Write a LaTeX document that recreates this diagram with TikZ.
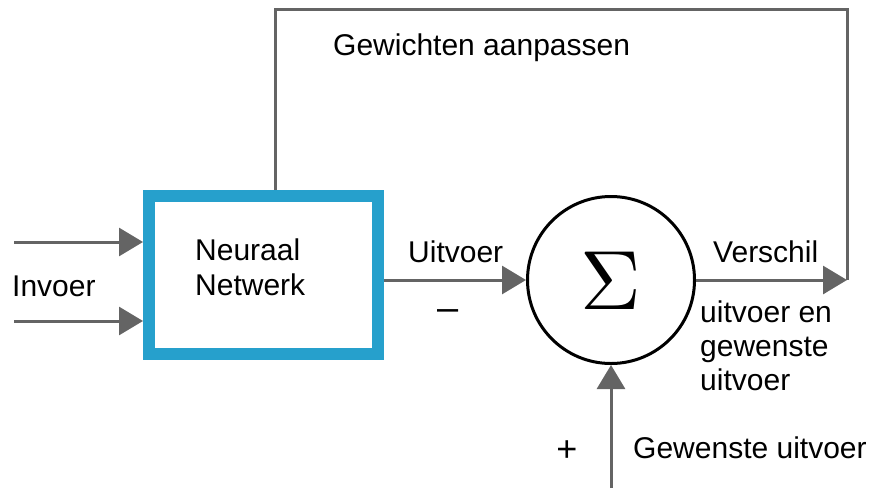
\documentclass[tikz,border=0pt]{standalone}
\usepackage{fontspec}
\setmainfont{Liberation Sans}
\usetikzlibrary{arrows.meta}
\definecolor{linegray}{RGB}{100,100,100}
\definecolor{nnblue}{RGB}{38,160,204}
\begin{document}
\begin{tikzpicture}[x=1pt,y=-1pt,
  conn/.style={draw=linegray,line width=3pt},
  arr/.style={conn,-{Triangle[length=24pt,width=28pt]}},
  lbl/.style={anchor=base west,inner sep=0pt,font=\fontsize{30}{35}\selectfont}]
\useasboundingbox (0,0) rectangle (874,488);
% nodes
\node[draw=nnblue,line width=12pt,minimum width=229pt,minimum height=158pt,inner sep=0pt] (nn) at (263.5,275) {};
\node[draw=black,line width=3pt,circle,minimum size=167pt,inner sep=0pt] (sum) at (611,280) {};
\node[inner sep=0pt,scale=8.4] (sig) at (611,281) {$\Sigma$};
% texts
\node[lbl] (tnn1) at (195,260) {Neuraal};
\node[lbl] (tnn2) at (195,295) {Netwerk};
\node[lbl] (tin) at (12,296) {Invoer};
\node[lbl] (tgew) at (333,55) {Gewichten aanpassen};
\node[lbl] (tuit) at (408,262) {Uitvoer};
\node[lbl] (tver) at (713,262) {Verschil};
\node[lbl] (td1) at (700,322) {uitvoer en};
\node[lbl] (td2) at (700,356) {gewenste};
\node[lbl] (td3) at (700,390) {uitvoer};
\node[lbl] (tgu) at (633,458) {Gewenste uitvoer};
\node[inner sep=0pt,font=\fontsize{38}{40}\selectfont] (tmin) at (448,315) {--};
\node[inner sep=0pt,font=\fontsize{36}{40}\selectfont] (tplus) at (567,451) {+};
% coordinates
\coordinate (in1) at (14,242);
\coordinate (in2) at (14,321);
\coordinate (o1) at (0,280);
\coordinate (corner) at (847,280);
\coordinate (tr) at (847,9);
\coordinate (tl) at (275,9);
\coordinate (bot) at (611,488);
% connectors
\draw[arr] (in1) -- (in1 -| nn.west);
\draw[arr] (in2) -- (in2 -| nn.west);
\draw[arr] (o1 -| nn.east) -- (sum.west);
\draw[arr] (sum.east) -- (corner);
\draw[conn] (corner) -- (tr) -- (tl) -- (tl |- nn.north);
\draw[arr] (bot) -- (sum.south);
\end{tikzpicture}
\end{document}
